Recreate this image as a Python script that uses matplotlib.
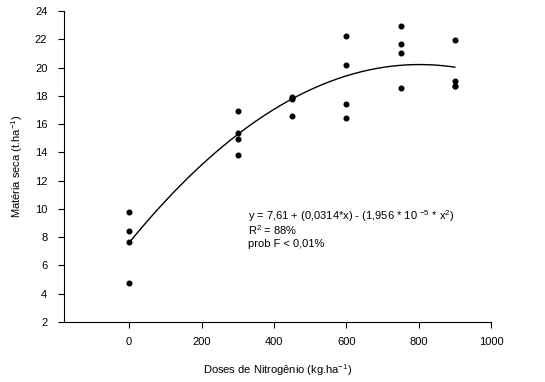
import numpy as np
from matplotlib import pyplot as plt

plt.rcParams['font.family'] = ['Liberation Sans', 'DejaVu Sans']
plt.rcParams['mathtext.default'] = 'regular'

# observed points (dose, dry matter)
doses = [0, 0, 0, 0,
         300, 300, 300, 300,
         450, 450, 450, 450,
         600, 600, 600, 600,
         750, 750, 750, 750,
         900, 900, 900, 900]
materia = [9.76, 8.41, 7.68, 4.76,
           16.92, 15.39, 14.92, 13.79,
           17.95, 17.85, 17.8, 16.6,
           22.23, 20.15, 17.42, 16.43,
           22.93, 21.64, 21.02, 18.53,
           21.92, 19.07, 18.67, 18.72]

# fitted regression coefficients
b0, b1, b2 = 7.61, 0.0314, -1.956e-5
x_ticks = [0, 200, 400, 600, 800, 1000]
y_ticks = [2, 4, 6, 8, 10, 12, 14, 16, 18, 20, 22, 24]
eq_lines = ['y = 7,61 + (0,0314*x) - (1,956 * 10 $^{-5}$ * x$^{2}$)',
            'R$^{2}$ = 88%',
            'prob F < 0,01%']


def main():
    fig = plt.figure(figsize=(5.45, 3.82), dpi=100)
    ax = fig.add_axes([64 / 545, 1 - 322 / 382, 427 / 545, 311 / 382])

    xs = np.linspace(0, 900, 200)
    ax.plot(xs, b0 + b1 * xs + b2 * xs ** 2, color='black', lw=1.0)
    ax.scatter(doses, materia, s=11, color='black', zorder=3)

    ax.set_xlim(-180, 1000)
    ax.set_ylim(2, 24)
    ax.set_xticks(x_ticks)
    ax.set_yticks(y_ticks)
    ax.spines['top'].set_visible(False)
    ax.spines['right'].set_visible(False)
    ax.tick_params(direction='out', length=4, labelsize=8, pad=8)
    ax.tick_params(axis='x', pad=7)

    ax.set_xlabel('Doses de Nitrogênio (kg.ha$^{-1}$)', fontsize=8, labelpad=11)
    ax.set_ylabel('Matéria seca (t.ha$^{-1}$)', fontsize=8, labelpad=7)

    for i, line in enumerate(eq_lines):
        ax.text(328, 9.5 - i * 0.99, line, fontsize=8, va='center', ha='left')

    fig.savefig('out.png', dpi=100)


if __name__ == "__main__":
    main()
